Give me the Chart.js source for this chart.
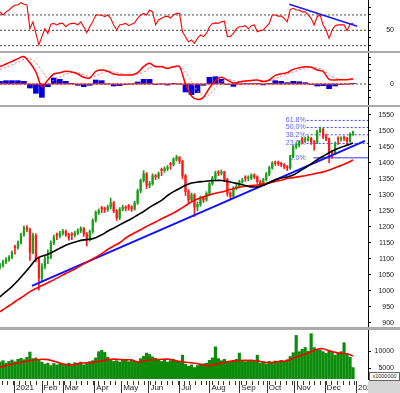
<!DOCTYPE html>
<html><head><meta charset="utf-8">
<script src="https://cdn.jsdelivr.net/npm/chart.js@4.4.1/dist/chart.umd.min.js"></script>
<style>
html,body{margin:0;padding:0;background:#fff;}
#wrap{position:relative;width:400px;height:393px;overflow:hidden;background:#fff;font-family:'Liberation Sans',Arial,sans-serif;}
#wrap canvas{position:absolute;left:0;}
.sep{position:absolute;left:0;width:400px;background:#ababab;}
#unit{position:absolute;left:369px;top:372px;width:29px;height:7px;border:1px solid #666;background:#fff;font-size:5.5px;line-height:7px;color:#222;text-align:center;}
#corner{position:absolute;left:368px;top:381px;width:32px;height:12px;background:#d6d6d6;}
</style></head><body>
<div id="wrap">
<canvas id="rsi" width="400" height="51" style="top:0"></canvas>
<div class="sep" style="top:51px;height:2px"></div>
<canvas id="macd" width="400" height="52" style="top:53px"></canvas>
<div class="sep" style="top:105px;height:2px"></div>
<canvas id="price" width="400" height="220" style="top:107px"></canvas>
<div class="sep" style="top:327px;height:3px"></div>
<canvas id="vol" width="400" height="63" style="top:330px"></canvas>
<div id="corner"></div>
<div id="unit">x1000000</div>
</div>
<script>
// ---------- DATA (one entry per session slot) ----------
const opens = [
1075,1080,1090,1098,1105,1138,1135,1150,1175,1198,
1192,1120,1172,1100,1040,1075,1100,1105,1150,1176,
1172,1180,1186,1176,1178,1174,1180,1188,1195,1178,
1160,1185,1220,1245,1260,1256,1254,1262,1275,1250,
1228,1255,1262,1266,1262,1256,1275,1312,1345,1366,
1330,1335,1360,1356,1380,1376,1382,1398,1395,1412,
1418,1405,1360,1310,1284,1300,1262,1270,1290,1284,
1305,1335,1352,1372,1368,1372,1348,1305,1296,1321,
1326,1341,1356,1352,1352,1362,1357,1341,1335,1348,
1365,1385,1400,1402,1399,1395,1388,1384,1420,1451,
1456,1476,1472,1472,1477,1466,1465,1498,1505,1482,
1475,1435,1430,1478,1475,1480,1477,1468,1490];
const highs = [
1086,1096,1104,1110,1125,1142,1156,1180,1203,1204,
1196,1180,1178,1106,1085,1108,1128,1156,1174,1180,
1186,1192,1190,1180,1182,1186,1194,1200,1198,1182,
1190,1225,1250,1256,1264,1262,1268,1290,1280,1254,
1260,1268,1266,1270,1266,1280,1318,1350,1376,1370,
1342,1366,1364,1372,1384,1388,1392,1402,1416,1424,
1420,1408,1364,1316,1306,1304,1278,1296,1294,1310,
1340,1358,1374,1376,1378,1374,1352,1310,1326,1332,
1346,1352,1360,1360,1366,1366,1360,1346,1352,1370,
1390,1404,1406,1406,1402,1398,1392,1424,1456,1462,
1470,1480,1480,1484,1480,1470,1502,1512,1508,1490,
1478,1440,1466,1482,1482,1484,1480,1494,1500];
const lows = [
1068,1074,1085,1092,1100,1114,1130,1146,1170,1185,
1095,1115,1090,1002,1030,1068,1085,1100,1144,1160,
1165,1174,1170,1158,1160,1168,1175,1182,1170,1140,
1155,1180,1215,1238,1244,1245,1248,1256,1244,1220,
1222,1250,1250,1252,1248,1252,1270,1306,1340,1320,
1322,1330,1348,1350,1360,1370,1376,1380,1390,1406,
1398,1350,1298,1272,1278,1232,1250,1264,1276,1280,
1300,1330,1346,1360,1362,1342,1296,1288,1292,1316,
1322,1336,1342,1344,1348,1350,1336,1326,1330,1344,
1360,1380,1392,1392,1388,1382,1376,1380,1416,1444,
1450,1460,1464,1468,1458,1440,1460,1494,1476,1470,
1400,1415,1426,1458,1468,1470,1456,1464,1486];
const closes = [
1080,1090,1098,1105,1120,1135,1150,1175,1198,1192,
1120,1172,1100,1040,1075,1100,1105,1150,1168,1172,
1180,1186,1176,1166,1174,1180,1188,1195,1178,1160,
1185,1220,1245,1250,1256,1254,1262,1275,1250,1228,
1255,1262,1258,1262,1256,1275,1312,1345,1366,1330,
1335,1360,1356,1366,1376,1382,1386,1395,1412,1418,
1405,1360,1310,1284,1300,1262,1270,1290,1284,1305,
1335,1352,1368,1368,1372,1348,1305,1296,1321,1326,
1341,1346,1352,1352,1362,1357,1341,1335,1348,1365,
1385,1400,1399,1399,1395,1388,1384,1420,1451,1456,
1466,1472,1472,1477,1466,1465,1498,1505,1482,1475,
1435,1430,1462,1475,1475,1477,1468,1490,1497];
const rsi = [
74,70,74,76.5,80,83,83,86,84,83,
52,61,46,31,41.7,52,46,58,59,57,
59,59,54.7,58,59,59,57,61,54.7,47,
54.7,61,70,70,70,67.7,70,65.6,57,50.4,
57,58,59,56,58,59.7,65.6,70,72,70,
76.5,74,57,63.4,65.6,67.7,68.5,66,70,72,
72,48,41.7,35,37.4,33,39.5,44,41.7,46,
54.7,59,59.7,59,61,62,41.7,42,46,52,
54.7,54.7,56,52,56,57,48,49.6,50.4,54.7,
59,70,70,68.5,68.5,65.6,61,77,78.6,76.5,
76.5,74,74,70,65.6,57,67.7,70,57,50.4,
39.5,50.4,56,57,57,57,49.6,58,59];
const volume = [
6800,7200,6500,7000,7400,6900,7600,7900,7500,8200,
9700,7800,8000,7500,6800,6200,6500,5800,6400,6000,
6200,6300,5900,6500,6100,6600,6200,6800,6000,6400,
6900,7200,8000,9800,10200,9600,8200,7600,7000,7200,
6800,7400,7300,6900,7500,7100,6800,7800,8500,9400,
9000,8300,7900,7400,7000,7300,6800,7200,7600,7100,
6900,8800,6200,5600,6000,5200,5800,5900,6300,6500,
7300,8000,11200,7800,7200,7600,6900,7000,7300,7600,
9400,7200,6900,7100,7400,7000,8800,6500,6800,6300,
7000,6600,7100,6800,7300,7000,7500,8400,9500,14500,
9800,10500,11000,9900,15000,11000,10500,10200,9800,9300,
10000,9600,8800,9400,9800,12400,9000,8200,5200];

// ---------- DATA (one entry per two session slots) ----------
const maBlack = [981,997,1013,1032,1053,1075,1098,1108,1114,1123,1133,1142,1149,1155,1159,1161,1166,1175,1186,1196,1206,1216,1226,1237,1248,1261,1272,1283,1298,1310,1320,1330,1337,1340,1342,1344,1345,1345,1342,1338,1334,1329,1325,1325,1330,1338,1347,1353,1356,1362,1373,1385,1397,1410,1421,1432,1441,1449,1455,1462];
const maRed = [934,947,959,972,984,997,1007,1016,1025,1034,1044,1054,1063,1073,1084,1094,1105,1116,1129,1140,1150,1165,1176,1186,1196,1206,1215,1225,1234,1243,1254,1266,1278,1287,1294,1300,1305,1309,1314,1319,1324,1327,1329,1331,1335,1338,1342,1346,1351,1354,1357,1360,1364,1368,1372,1378,1385,1392,1400,1409];
const macdLine = [13,15,17,19,20.5,16,9,-2,3,7.5,8.5,9.5,9,7.5,5,4.5,9.5,10.5,9.5,7.5,6.8,6.8,6.8,8.5,13,15.5,13,13,11.7,13,13,0,-9,-11.5,-10,-3,2.5,5,3,0.7,1.5,2.2,2.7,3,1.8,3,6.5,7.7,8.5,11,12.2,13,12.5,10.5,9.5,3.5,3,3.2,3.2,4];
const macdSignal = [11,12.5,14.5,16.5,18.5,19,16,10,4,2.5,5,7.5,8.5,8.5,7,5.5,6,8,9.5,9,8,7.2,6.8,7,9,12,13.5,13.2,12.5,12.5,13,9,2,-5,-9,-8,-3,1.5,3.5,2.5,1.5,1.8,2.3,2.7,2.5,2.5,4,6,7.5,9,10.5,12,12.8,12,10.8,7,4.5,3.5,3.3,3.5];
const macdHist = [2,2.5,2.5,2.5,2,-3,-7,-10,-2,4.5,3.5,2,0.5,-1,-2,-1,3,2.5,0,-1.5,-1.2,-0.5,0,1.5,3.5,3.5,-0.5,0,-0.8,0.5,0,-6,-8,-6.5,-1,5,5.5,3.5,-0.5,-1.8,0,0.4,0.4,0.3,-0.7,0.5,2.5,2,1,2,1.7,1,-0.3,-1.5,-1.3,-3.5,-1.5,-0.3,0,0.5];
const volMA = [5340,5800,6200,6550,6900,7200,7450,7630,7500,7050,6500,6100,6000,6350,6550,6650,6850,7100,7500,7650,7550,7450,7400,6800,7000,7400,7500,7600,7650,7350,7000,6750,6600,6350,6000,5750,6150,6550,6900,7100,7250,7300,7250,7150,6800,6650,6850,7000,7200,7900,8550,9150,9800,10500,10650,10100,9600,9300,9200,8600];

// ---------- trend lines, levels, ticks ----------
const priceTrendIdx = [10.7, 122];
const priceTrendVal = [1015, 1469];
const rsiTrendIdx = [96.7, 119.4];
const rsiTrendVal = [83.9, 55.2];
const rsiLevels = [30, 50, 70];
const fibLevels = [1416, 1461, 1488, 1511, 1533];
const fibLabels = ['0.0%', '23.6%', '38.2%', '50.0%', '61.8%'];
const fibStartIdx = 102.5;
const fibSolidStartIdx = 104.7;
const priceTicks = [900,950,1000,1050,1100,1150,1200,1250,1300,1350,1400,1450,1500,1550];
const rsiTicks = [30,40,50,60,70,80];
const macdTicks = [-10,-5,0,5,10,15,20];
const volTicks = [5000, 10000];
const monthPos = [4.7,13.9,21,31.5,40.5,49.6,59.9,70,80,89.2,98.4,108.5,119];
const monthLabels = ['2021','Feb','Mar','Apr','May','Jun','Jul','Aug','Sep','Oct','Nov','Dec','2022'];
const xMax = 123;
const lastIdx = closes.length - 1;

// ---------- helpers ----------
Chart.defaults.font.family = "'Liberation Sans', Arial, sans-serif";
const GREEN = '#1c9e1c', RED = '#ff1a1a';
const pts = (arr, step) => arr.map((v, i) => ({x: i * step, y: v}));
const seg = (xs, ys) => xs.map((x, i) => ({x, y: ys[i]}));
const line = (data, color, width, extra) => Object.assign({type: 'line', data, borderColor: color, borderWidth: width, pointRadius: 0, fill: false, tension: 0}, extra || {});
const candleColor = ctx => closes[ctx.dataIndex] >= opens[ctx.dataIndex] ? GREEN : RED;

function yScale(min, max, ticks, labelFn) {
  return {
    type: 'linear', position: 'right', min, max, bounds: 'data',
    afterBuildTicks: s => { s.ticks = ticks.map(v => ({value: v})); },
    afterFit: s => { s.width = 26; s.paddingTop = 0; s.paddingBottom = 0; },
    grid: {drawOnChartArea: false, drawTicks: true, tickLength: 3, tickColor: '#000', color: '#000'},
    border: {display: true, color: '#000', width: 1},
    ticks: {crossAlign: 'far', color: '#222', font: {size: 7}, autoSkip: false, padding: 2, callback: labelFn}
  };
}
const hiddenX = () => ({type: 'linear', min: 0, max: xMax, display: false, offset: false, bounds: 'data'});
function opts(y, x) {
  return {
    responsive: false, devicePixelRatio: 1, animation: false, events: [],
    layout: {padding: {left: 0, right: 6, top: 0, bottom: 0}},
    plugins: {legend: {display: false}, tooltip: {enabled: false}},
    scales: {x: x || hiddenX(), y}
  };
}

// ---------- RSI ----------
new Chart(document.getElementById('rsi'), {
  type: 'line',
  data: {datasets: [
    line(seg(rsiTrendIdx, rsiTrendVal), '#1a1aff', 1.6),
    line(pts(rsi, 1), '#ff0000', 1.1),
    ...rsiLevels.map(lv => line(seg([0, xMax], [lv, lv]), '#444', 1, {borderDash: [2, 2]}))
  ]},
  options: opts(yScale(23, 89.5, rsiTicks, v => v === 50 ? '50' : ''))
});

// ---------- MACD ----------
new Chart(document.getElementById('macd'), {
  type: 'line',
  data: {datasets: [
    line(pts(macdLine, 2), '#ff0000', 1.5, {tension: 0.3}),
    line(pts(macdSignal, 2), '#ff7070', 1, {borderDash: [2, 2], tension: 0.3}),
    line(seg([0, lastIdx], [0, 0]), '#ff2020', 1),
    line(seg([0, xMax], [0, 0]), '#444', 1, {borderDash: [2, 2]}),
    {type: 'bar', data: pts(macdHist, 2), backgroundColor: '#0000e0', barThickness: 5, maxBarThickness: 5, grouped: false, borderWidth: 0}
  ]},
  options: opts(yScale(-15.75, 23.25, macdTicks, v => v === 0 ? '0' : ''))
});

// ---------- PRICE ----------
const fibPlugin = {
  id: 'fibLabels',
  beforeDatasetsDraw(chart) {
    const {ctx, scales: {x, y}} = chart;
    ctx.save();
    ctx.font = "7px 'Liberation Sans', Arial, sans-serif";
    ctx.fillStyle = '#6262ff';
    ctx.textAlign = 'right';
    ctx.textBaseline = 'middle';
    fibLevels.forEach((lv, i) => ctx.fillText(fibLabels[i], x.getPixelForValue(fibStartIdx) - 1, y.getPixelForValue(lv)));
    ctx.restore();
  }
};
new Chart(document.getElementById('price'), {
  type: 'line',
  data: {datasets: [
    line(pts(maBlack, 2), '#000000', 1.6, {tension: 0.3}),
    line(pts(maRed, 2), '#ff0000', 1.6, {tension: 0.3}),
    line(seg(priceTrendIdx, priceTrendVal), '#1010ff', 2),
    {type: 'bar', data: closes.map((c, i) => ({x: i, y: [opens[i], c]})), backgroundColor: candleColor, barThickness: 1.6, maxBarThickness: 1.6, minBarLength: 1, grouped: false, borderWidth: 0},
    {type: 'bar', data: closes.map((c, i) => ({x: i, y: [lows[i], highs[i]]})), backgroundColor: candleColor, barThickness: 1, maxBarThickness: 1, grouped: false, borderWidth: 0},
    line(seg([fibSolidStartIdx, xMax], [fibLevels[0], fibLevels[0]]), '#7878ff', 1.5),
    ...fibLevels.slice(1).map(lv => line(seg([fibStartIdx, xMax], [lv, lv]), '#4646ff', 1, {borderDash: [2, 2]}))
  ]},
  options: opts(yScale(886.4, 1575, priceTicks, v => String(v))),
  plugins: [fibPlugin]
});

// ---------- VOLUME ----------
const xTickPlugin = {
  id: 'xTicks',
  afterDraw(chart) {
    const {ctx, chartArea, scales: {x}} = chart;
    const top = chartArea.bottom + 2;
    ctx.save();
    ctx.strokeStyle = '#333';
    ctx.lineWidth = 1;
    ctx.beginPath();
    for (let v = 0.6; v < lastIdx + 1; v += 1.9) {
      const px = Math.round(x.getPixelForValue(v)) + 0.5;
      ctx.moveTo(px, top); ctx.lineTo(px, top + 4);
    }
    monthPos.forEach(v => {
      const px = Math.round(x.getPixelForValue(v)) + 0.5;
      ctx.moveTo(px, top); ctx.lineTo(px, top + 12);
    });
    ctx.stroke();
    ctx.restore();
  }
};
new Chart(document.getElementById('vol'), {
  type: 'line',
  data: {datasets: [
    line(pts(volMA, 2), '#ff0000', 1.6, {tension: 0.3}),
    {type: 'bar', data: pts(volume, 1), backgroundColor: '#0b8c0b', barThickness: 2.5, maxBarThickness: 2.5, grouped: false, borderWidth: 0}
  ]},
  options: opts(
    yScale(1908, 16069, volTicks, v => String(v)),
    {
      type: 'linear', min: 0, max: xMax, position: 'bottom', offset: false, bounds: 'data',
      afterBuildTicks: s => { s.ticks = monthPos.map(v => ({value: v})); },
      afterFit: s => { s.height = 14; s.paddingLeft = 0; s.paddingRight = 0; },
      grid: {drawOnChartArea: false, drawTicks: false},
      border: {display: false},
      ticks: {align: 'start', labelOffset: 2, padding: 4, maxRotation: 0, minRotation: 0, autoSkip: false, color: '#222', font: {size: 8}, callback: (v, i) => monthLabels[i]}
    }
  ),
  plugins: [xTickPlugin]
});
</script>
</body></html>
